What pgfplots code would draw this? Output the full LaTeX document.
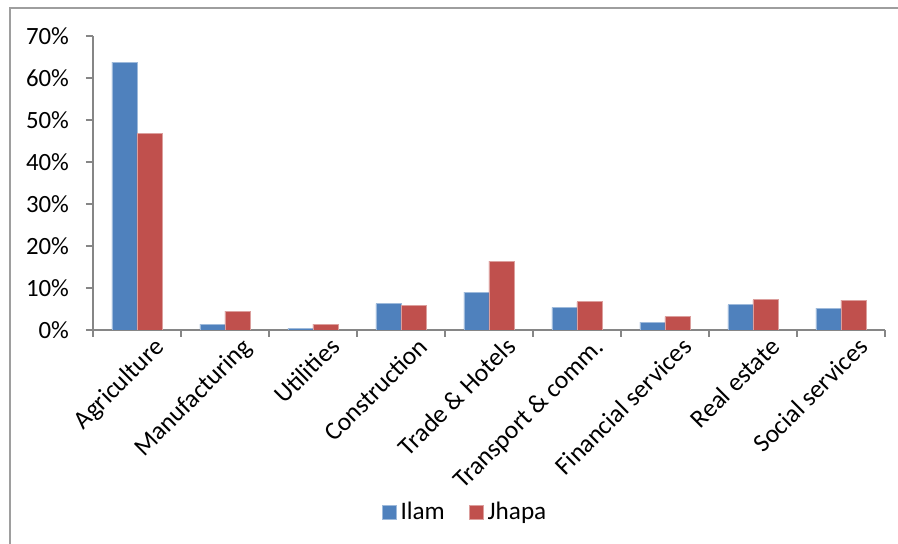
\documentclass[border=0pt]{standalone}
\usepackage{fontspec}
\setmainfont{Carlito}
\usepackage{pgfplots}
\pgfplotsset{compat=1.18}
\definecolor{bblue}{RGB}{79,129,189}
\definecolor{rred}{RGB}{192,80,77}
\definecolor{axgray}{RGB}{134,134,134}
\begin{document}
\begin{tikzpicture}
\begin{axis}[
 at={(0,0)}, anchor=south west,
 scale only axis, width=396pt, height=147pt,
 ybar=0pt, bar width=12.5pt,
 xmin=-0.5, xmax=8.5, ymin=0, ymax=70,
 axis x line*=bottom, axis y line*=left,
 axis line style={axgray, line width=0.9pt},
 tick align=outside,
 xtick={0,...,8},
 xticklabels={Agriculture,Manufacturing,Utilities,Construction,Trade \& Hotels,Transport \& comm.,Financial services,Real estate,Social services},
 major x tick style={draw=none},
 minor xtick={-0.5,0.5,...,8.5},
 minor x tick style={axgray, line width=0.9pt},
 minor tick length=3.5pt,
 ytick={0,10,...,70},
 y tick style={axgray, line width=0.9pt},
 major tick length=3.5pt,
 yticklabel={\pgfmathprintnumber{\tick}\%},
 /pgf/number format/assume math mode=true,
 ticklabel style={font=\fontsize{12.4}{14}\selectfont},
 yticklabel style={xshift=-5pt},
 xticklabel style={rotate=45, anchor=north east, inner sep=1pt, xshift=7pt, yshift=-4pt, font=\fontsize{12.8}{14}\selectfont},
 legend style={at={(0.471,-0.619)}, anchor=center, draw=none, legend columns=2,
   font=\fontsize{12.6}{14}\selectfont,
   /tikz/every even column/.append style={column sep=10pt}},
 legend image code/.code={\fill[#1] (0pt,-3.5pt) rectangle (7pt,3.5pt);},
]
\addplot[fill=bblue, draw=bblue!55!white, line width=0.4pt] coordinates {
(0,63.8) (1,1.4) (2,0.4) (3,6.3) (4,9.0) (5,5.4) (6,1.9) (7,6.0) (8,5.2)};
\addplot[fill=rred, draw=rred!55!white, line width=0.4pt] coordinates {
(0,46.7) (1,4.5) (2,1.4) (3,5.9) (4,16.4) (5,6.7) (6,3.2) (7,7.2) (8,7.1)};
\legend{Ilam,Jhapa}
\end{axis}
\pgfresetboundingbox
\useasboundingbox (-46.5pt,-107pt) rectangle (402.5pt,165pt);
\draw[axgray!80, line width=0.8pt] (-41.5pt,-200pt) -- (-41.5pt,161pt) -- (500pt,161pt);
\end{tikzpicture}
\end{document}
